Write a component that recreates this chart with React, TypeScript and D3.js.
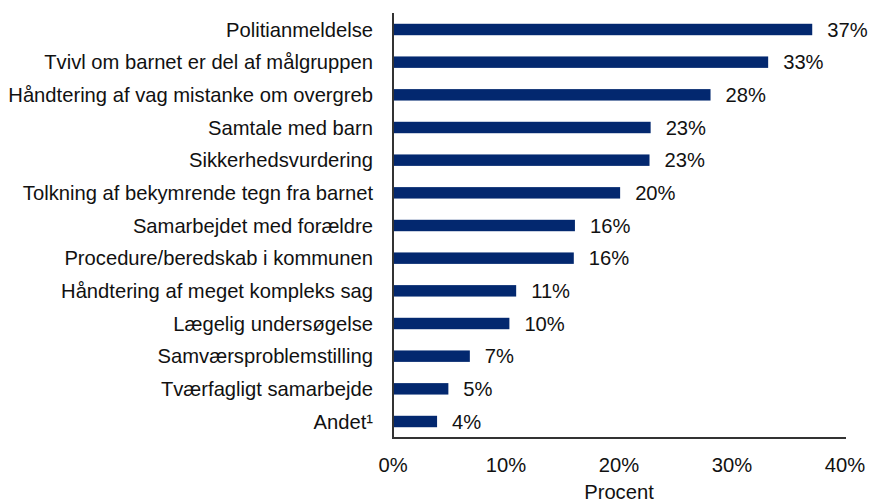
import React from "react";
import * as d3 from "d3";

const categories = [
  "Politianmeldelse",
  "Tvivl om barnet er del af målgruppen",
  "Håndtering af vag mistanke om overgreb",
  "Samtale med barn",
  "Sikkerhedsvurdering",
  "Tolkning af bekymrende tegn fra barnet",
  "Samarbejdet med forældre",
  "Procedure/beredskab i kommunen",
  "Håndtering af meget kompleks sag",
  "Lægelig undersøgelse",
  "Samværsproblemstilling",
  "Tværfagligt samarbejde",
  "Andet¹",
];
const values = [37.1, 33.2, 28.1, 22.8, 22.7, 20.1, 16.1, 16.0, 10.9, 10.3, 6.8, 4.9, 3.9];
const valueLabels = ["37%", "33%", "28%", "23%", "23%", "20%", "16%", "16%", "11%", "10%", "7%", "5%", "4%"];
const xTicks = [0, 10, 20, 30, 40];
const xTitle = "Procent";

const W = 870;
const H = 502;
const left = 393;
const right = 845;
const top = 13;
const bottom = 438;
const font = "Arial, 'Liberation Sans', sans-serif";
const fs = 20.2;

export default function App() {
  const x = d3.scaleLinear().domain([0, 40]).range([left, right]);
  const y = d3.scaleBand<string>().domain(categories).range([top, bottom]).paddingInner(0.65).paddingOuter(0.33);
  return (
    <svg width={W} height={H} style={{ position: "absolute", left: 0, top: 0, background: "#fff" }} fontFamily={font}>
      {categories.map((c, i) => {
        const yc = (y(c) as number) + y.bandwidth() / 2;
        return (
          <g key={c}>
            <rect x={x(0)} y={y(c)} width={x(values[i]) - x(0)} height={y.bandwidth()} fill="#03286f" />
            <text x={x(values[i]) + 15} y={yc} dy="0.35em" fontSize={fs} fill="#111">{valueLabels[i]}</text>
            <text x={373} y={yc} dy="0.35em" fontSize={fs} textAnchor="end" fill="#111">{c}</text>
          </g>
        );
      })}
      <line x1={left} x2={left} y1={top} y2={bottom} stroke="#333" strokeWidth={2} />
      <line x1={left - 1} x2={right + 1} y1={bottom} y2={bottom} stroke="#333" strokeWidth={2} />
      {xTicks.map((t) => (
        <text key={t} x={x(t)} y={465} dy="0.35em" textAnchor="middle" fontSize={fs} fill="#111">{t}%</text>
      ))}
      <text x={(left + right) / 2} y={492} dy="0.35em" textAnchor="middle" fontSize={fs} fill="#111">{xTitle}</text>
    </svg>
  );
}
